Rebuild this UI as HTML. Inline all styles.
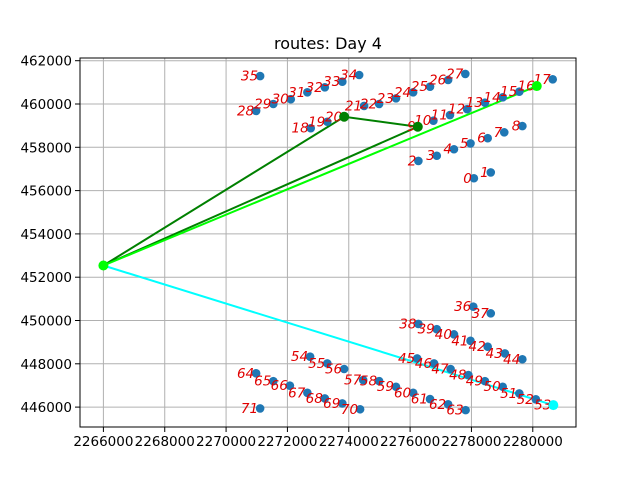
<!DOCTYPE html>
<html><head><meta charset="utf-8"><style>
body{margin:0;background:#fff;width:640px;height:480px;overflow:hidden}
text{font-family:"DejaVu Sans","Liberation Sans",sans-serif}
</style></head><body>
<svg id="chart" width="640" height="480" xmlns="http://www.w3.org/2000/svg">
<rect width="640" height="480" fill="#fff"/>
<text x="328" y="49" font-size="16" text-anchor="middle">routes: Day 4</text>
<g id="grid"></g><g id="routes"></g><g id="pts"></g><g id="labels"></g><g id="nodes"></g><g id="axes"></g>
</svg>
<script>
const xs=[2278080,2278630,2276270,2276870,2277430,2277970,2278530,2279070,2279660,2276250,2276760,2277300,2277860,2278440,2279020,2279560,2280130,2280650,2272760,2273300,2273850,2274500,2274990,2275540,2276100,2276650,2277240,2277800,2270980,2271540,2272110,2272650,2273220,2273790,2274340,2271110,2278060,2278630,2276270,2276870,2277430,2277970,2278530,2279090,2279660,2276230,2276780,2277320,2277900,2278440,2279020,2279560,2280100,2280670,2272740,2273300,2273850,2274470,2274990,2275540,2276100,2276650,2277240,2277810,2270980,2271540,2272080,2272650,2273220,2273790,2274370,2271110];
const ys=[456570,456840,457370,457610,457910,458180,458420,458690,458980,458950,459230,459490,459760,460060,460310,460570,460830,461140,458880,459180,459410,459910,460000,460260,460540,460800,461110,461390,459680,460000,460220,460540,460770,461030,461340,461290,450640,450330,449840,449600,449360,449060,448790,448480,448210,448250,448020,447760,447480,447200,446940,446630,446360,446090,448330,448020,447760,447250,447200,446940,446660,446370,446130,445860,447560,447200,446990,446660,446400,446170,445900,445940];
const depot=[2266000,452540];
const routeStops=[[20,9],[16],[53]];
const routeColors=["#008000","#00ff00","#00ffff"];
const xTicks=[2266000,2268000,2270000,2272000,2274000,2276000,2278000,2280000];
const yTicks=[446000,448000,450000,452000,454000,456000,458000,460000,462000];
const L=80,R=576,T=58,B=427;
const X=v=>103.4+(v-2266000)*0.03067;
const Y=v=>104-(v-460000)*0.02165;
const NS="http://www.w3.org/2000/svg";
function mk(p,t,a){const e=document.createElementNS(NS,t);for(const k in a)e.setAttribute(k,a[k]);p.appendChild(e);return e;}
const g=document.getElementById('grid'),ax=document.getElementById('axes');
xTicks.forEach(v=>{const x=X(v);
 const l=mk(g,'line',{x1:x,x2:x,y1:T,y2:B,stroke:'#b0b0b0','stroke-width':1});
 
 mk(ax,'line',{x1:x,x2:x,y1:B,y2:B+5,stroke:'#000','stroke-width':1});
 const t=mk(ax,'text',{x:x,y:B+19,'font-size':13.5,'text-anchor':'middle'});t.textContent=v;
 });
yTicks.forEach(v=>{const y=Y(v);
 const l=mk(g,'line',{x1:L,x2:R,y1:y,y2:y,stroke:'#b0b0b0','stroke-width':1});
 
 mk(ax,'line',{x1:L-5,x2:L,y1:y,y2:y,stroke:'#000','stroke-width':1});
 const t=mk(ax,'text',{x:L-8,y:y+5,'font-size':13.5,'text-anchor':'end'});t.textContent=v;
 });
const fr=mk(ax,'rect',{x:L,y:T,width:R-L,height:B-T,fill:'none',stroke:'#000','stroke-width':1});

const rg=document.getElementById('routes'),ng=document.getElementById('nodes');
routeStops.forEach((st,i)=>{
 const pts=[depot].concat(st.map(k=>[xs[k],ys[k]])).concat([depot]);
 const pl=mk(rg,'polyline',{points:pts.map(p=>X(p[0])+','+Y(p[1])).join(' '),fill:'none',stroke:routeColors[i],'stroke-width':2});
 
 st.forEach(k=>{const c=mk(ng,'circle',{cx:X(xs[k]),cy:Y(ys[k]),r:5,fill:routeColors[i]});
  });
});
const dp=mk(ng,'circle',{cx:X(depot[0]),cy:Y(depot[1]),r:5,fill:'#00ff00'});

const pg=document.getElementById('pts'),lg=document.getElementById('labels');
xs.forEach((v,i)=>{
 const c=mk(pg,'circle',{cx:X(v),cy:Y(ys[i]),r:4.3,fill:'#1f77b4'});
 
 const t=mk(lg,'text',{x:X(v)-2,y:Y(ys[i])+4.5,'font-size':13.5,'font-style':'italic','text-anchor':'end',fill:'#e00000'});
 t.textContent=i;
 
});
</script>
</body></html>
